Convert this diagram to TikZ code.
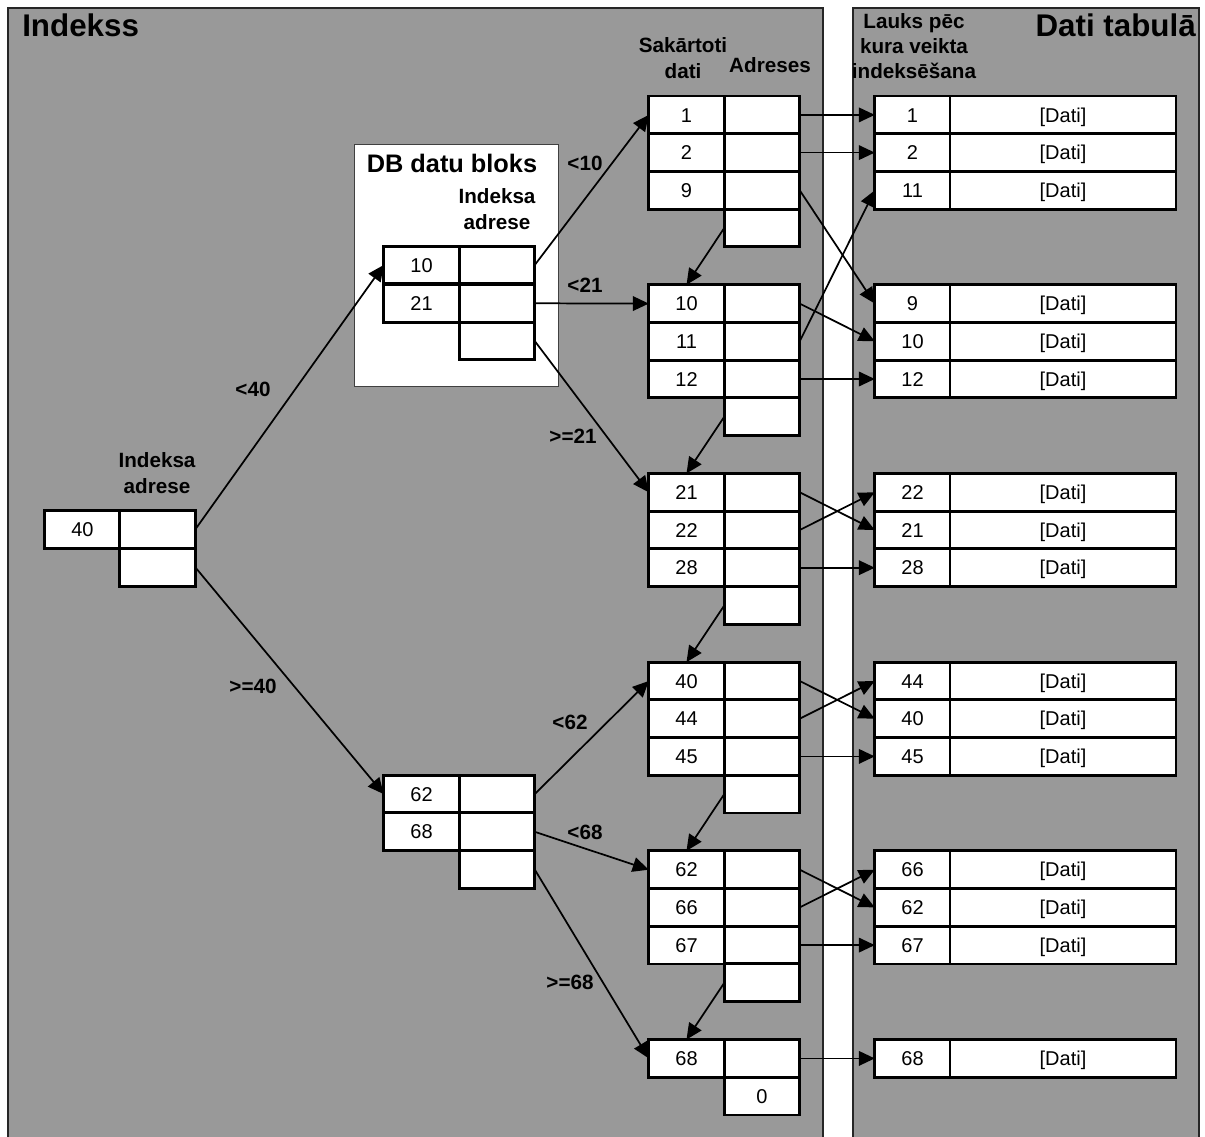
\documentclass[tikz,border=0pt]{standalone}
\usepackage{fontspec}
\setmainfont{Liberation Sans}
\usetikzlibrary{arrows.meta}
\definecolor{panel}{RGB}{153,153,153}
\newcommand\mrow[2]{%
  \node[cell] (mk#1) at (686.5,#2) {#1};
  \node[cell] (ma#1) at (762,#2) {};
}
\newcommand\drow[2]{%
  \node[cell] (dk#1) at (912.5,#2) {#1};
  \node[wcell] (dd#1) at (1063,#2) {[Dati]};
}
\begin{document}
\begin{tikzpicture}[x=0.75pt,y=-0.75pt,
  cell/.style={draw,line width=2.2pt,fill=white,minimum width=56.6pt,minimum height=28.3pt,inner sep=0pt,outer sep=0pt,text height=13.74pt,text depth=3pt,font=\fontsize{15}{15}\selectfont},
  wcell/.style={cell,minimum width=169.5pt},
  arr/.style={line width=1.3pt,-{Triangle[length=12pt,width=11pt]}},
  lbl/.style={font=\bfseries\fontsize{15.5}{19}\selectfont,inner sep=0pt,align=center},
  title/.style={font=\bfseries\fontsize{23.5}{26}\selectfont,inner sep=0pt},
  frame/.style={line width=1pt,draw=black!85}]

\useasboundingbox (0,0) rectangle (1205,1137);

% panels
\fill[panel] (8,8) rectangle (823,1150);
\draw[frame] (8,1150) -- (8,8) -- (823,8) -- (823,1150);
\fill[panel] (853,8) rectangle (1199,1150);
\draw[frame] (853,1150) -- (853,8) -- (1199,8) -- (1199,1150);

% titles
\node[title,anchor=base west] (tidx) at (22,37) {Indekss};
\node[title,anchor=base east] (tdat) at (1196,37) {Dati tabulā};
\node[lbl] (hsort) at (683,58) {Sakārtoti\\dati};
\node[lbl] (hadr) at (770,65) {Adreses};
\node[lbl] (hfield) at (914,46) {Lauks pēc\\kura veikta\\indeksēšana};

% DB data block
\node[draw=black!75,line width=0.8pt,fill=white,minimum width=153pt,minimum height=181.5pt,inner sep=0pt,outer sep=0pt] (dbbox) at (456.3,265.1) {};
\node[lbl,font=\bfseries\fontsize{19}{22}\selectfont] (dbtitle) at (452,163) {DB datu bloks};
\node[lbl] (dbia) at (497,209) {Indeksa\\adrese};
\node[cell] (ik10) at (421.5,265) {10};
\node[cell] (ik21) at (421.5,303.3) {21};
\node[cell] (ia1) at (497,265) {};
\node[cell] (ia2) at (497,303.3) {};
\node[cell] (ia3) at (497,341) {};

% root
\node[lbl] (rootia) at (157,473) {Indeksa\\adrese};
\node[cell] (rk40) at (82.5,529.5) {40};
\node[cell] (ra1) at (157.5,529.5) {};
\node[cell] (ra2) at (157.5,567.2) {};

% lower index node
\node[cell] (jk62) at (421.5,794.1) {62};
\node[cell] (jk68) at (421.5,831.8) {68};
\node[cell] (ja1) at (497,794.1) {};
\node[cell] (ja2) at (497,831.8) {};
\node[cell] (ja3) at (497,869.5) {};

% sorted data blocks
\mrow{1}{114.9} \mrow{2}{152.6} \mrow{9}{190.3}
\node[cell] (mx0) at (762,228) {};
\mrow{10}{303.6} \mrow{11}{341.3} \mrow{12}{379}
\node[cell] (mx1) at (762,416.7) {};
\mrow{21}{492.3} \mrow{22}{530} \mrow{28}{567.7}
\node[cell] (mx2) at (762,605.4) {};
\mrow{40}{681} \mrow{44}{718.7} \mrow{45}{756.4}
\node[cell] (mx3) at (762,794.1) {};
\mrow{62}{869.7} \mrow{66}{907.4} \mrow{67}{945.1}
\node[cell] (mx4) at (762,982.8) {};
\mrow{68}{1058.4}
\node[cell] (mx5) at (762,1096.1) {0};

% data table
\drow{1}{114.9} \drow{2}{152.6} \drow{11}{190.3}
\drow{9}{303.6} \drow{10}{341.3} \drow{12}{379}
\drow{22}{492.3} \drow{21}{530} \drow{28}{567.7}
\drow{44}{681} \drow{40}{718.7} \drow{45}{756.4}
\drow{66}{869.7} \drow{62}{907.4} \drow{67}{945.1}
\drow{68}{1058.4}

% index arrows
\draw[arr] (ra1.east) -- (ik10.west);
\draw[arr] (ra2.east) -- (jk62.west);
\draw[arr] (ia1.east) -- (mk1.west);
\draw[arr] (ia2.east) -- (mk10.west);
\draw[arr] (ia3.east) -- (mk21.west);
\draw[arr] (ja1.east) -- (mk40.west);
\draw[arr] (ja2.east) -- (mk62.west);
\draw[arr] (ja3.east) -- (mk68.west);

% chain arrows
\draw[arr] (mx0.west) -- (mk10.north);
\draw[arr] (mx1.west) -- (mk21.north);
\draw[arr] (mx2.west) -- (mk40.north);
\draw[arr] (mx3.west) -- (mk62.north);
\draw[arr] (mx4.west) -- (mk68.north);

% data arrows
\foreach \n in {1,2,9,10,11,12,21,22,28,40,44,45,62,66,67,68}
  \draw[arr] (ma\n.east) -- (dk\n.west);

% connector labels
\node[lbl] (l40) at (253,389) {<40};
\node[lbl] (lge40) at (253,686) {>=40};
\node[lbl] (l10) at (585,163) {<10};
\node[lbl] (l21) at (585,285) {<21};
\node[lbl] (lge21) at (573,436) {>=21};
\node[lbl] (l62) at (570,722) {<62};
\node[lbl] (l68) at (585,832) {<68};
\node[lbl] (lge68) at (570,982) {>=68};
\end{tikzpicture}
\end{document}
